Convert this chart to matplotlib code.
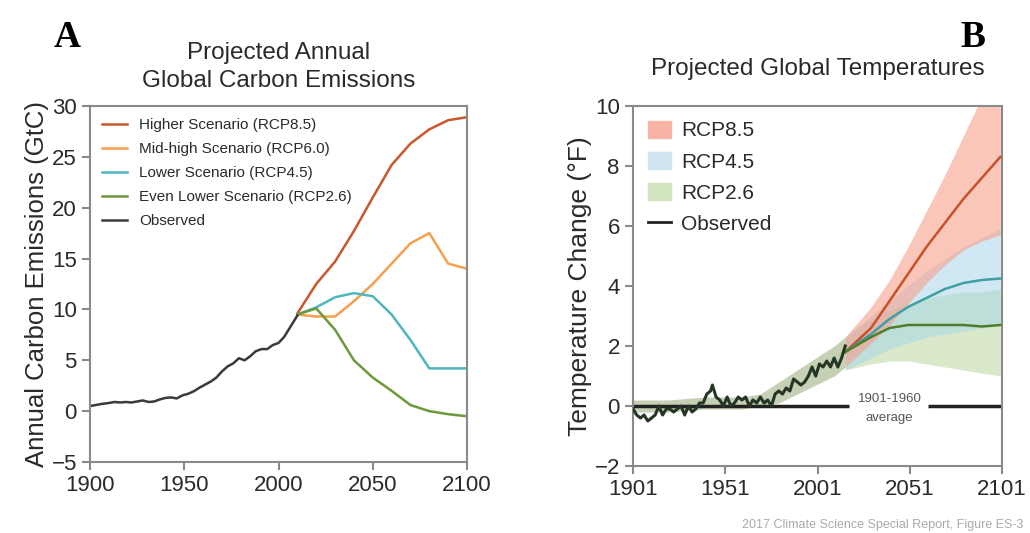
import numpy as np
import matplotlib.pyplot as plt
from matplotlib.lines import Line2D
from matplotlib.patches import Patch

plt.rcParams['font.family'] = ['Liberation Sans', 'DejaVu Sans']

# ---- Panel A: emissions (GtC) ----
obs_years = [1900, 1903, 1906, 1910, 1913, 1916, 1919, 1922, 1925, 1928, 1931, 1934,
             1937, 1940, 1943, 1946, 1949, 1952, 1955, 1958, 1961, 1964, 1967, 1970,
             1973, 1976, 1979, 1982, 1985, 1988, 1991, 1994, 1997, 2000, 2003, 2006, 2010]
obs_emis = [0.5, 0.6, 0.7, 0.8, 0.9, 0.85, 0.9, 0.85, 0.95, 1.05, 0.9, 0.95,
            1.15, 1.3, 1.35, 1.25, 1.55, 1.7, 1.95, 2.3, 2.6, 2.9, 3.3, 3.9,
            4.4, 4.7, 5.2, 5.0, 5.4, 5.9, 6.1, 6.1, 6.5, 6.7, 7.3, 8.2, 9.4]

scen_years = [2010, 2020, 2030, 2040, 2050, 2060, 2070, 2080, 2090, 2100]
rcp85_emis = [9.6, 12.5, 14.7, 17.7, 21.0, 24.2, 26.3, 27.7, 28.6, 28.9]
rcp45_emis = [9.5, 10.2, 11.2, 11.6, 11.3, 9.5, 7.0, 4.2, 4.2, 4.2]
rcp26_emis = [9.5, 10.1, 8.0, 5.0, 3.3, 2.0, 0.6, 0.0, -0.3, -0.5]
rcp60_years = [2010, 2020, 2030, 2040, 2050, 2060, 2070, 2080, 2085, 2090, 2100]
rcp60_emis = [9.5, 9.3, 9.3, 10.8, 12.5, 14.5, 16.5, 17.5, 16.0, 14.5, 14.0]

# ---- Panel B: temperature change (F) ----
tobs_years = [1901, 1903, 1905, 1907, 1909, 1911, 1913, 1915, 1917, 1919, 1921, 1923,
              1925, 1927, 1929, 1931, 1933, 1935, 1937, 1939, 1941, 1943, 1944, 1946,
              1948, 1950, 1952, 1954, 1956, 1958, 1960, 1962, 1964, 1966, 1968, 1970,
              1972, 1974, 1976, 1978, 1980, 1982, 1984, 1986, 1988, 1990, 1992, 1994,
              1996, 1998, 2000, 2002, 2004, 2006, 2008, 2010, 2012, 2014, 2016]
tobs = [-0.1, -0.3, -0.4, -0.3, -0.5, -0.4, -0.3, 0.0, -0.3, -0.1, -0.1, -0.2,
        -0.1, 0.0, -0.3, 0.0, -0.2, -0.1, 0.1, 0.1, 0.4, 0.5, 0.7, 0.3,
        0.2, 0.0, 0.3, 0.0, 0.1, 0.3, 0.2, 0.3, 0.0, 0.2, 0.1, 0.3,
        0.1, 0.2, 0.0, 0.4, 0.5, 0.4, 0.6, 0.5, 0.9, 0.8, 0.7, 0.8,
        1.0, 1.3, 1.0, 1.4, 1.3, 1.5, 1.3, 1.6, 1.3, 1.6, 2.0]

hist_years = [1901, 1920, 1940, 1950, 1960, 1970, 1980, 1990, 2000, 2010, 2016]
hist_hi = [0.2, 0.2, 0.3, 0.3, 0.3, 0.4, 0.8, 1.2, 1.6, 2.0, 2.3]
hist_lo = [-0.2, -0.2, -0.1, -0.1, -0.1, 0.0, 0.1, 0.4, 0.7, 1.0, 1.3]

proj_years = [2016, 2030, 2040, 2050, 2060, 2070, 2080, 2090, 2100]
rcp85_t = [1.8, 2.6, 3.5, 4.4, 5.3, 6.1, 6.9, 7.6, 8.3]
rcp45_t = [1.8, 2.4, 2.9, 3.3, 3.6, 3.9, 4.1, 4.2, 4.25]
rcp26_t = [1.8, 2.3, 2.6, 2.7, 2.7, 2.7, 2.7, 2.65, 2.7]
rcp85_hi = [2.3, 3.3, 4.2, 5.3, 6.5, 7.7, 9.0, 10.3, 11.5]
rcp85_lo = [1.3, 2.1, 2.7, 3.4, 4.1, 4.7, 5.2, 5.5, 5.7]
rcp45_hi = [2.3, 3.0, 3.5, 4.0, 4.5, 4.9, 5.3, 5.6, 5.9]
rcp45_lo = [1.2, 1.6, 1.9, 2.1, 2.3, 2.4, 2.5, 2.6, 2.7]
rcp26_hi = [2.3, 2.9, 3.2, 3.4, 3.6, 3.7, 3.8, 3.8, 3.9]
rcp26_lo = [1.2, 1.4, 1.5, 1.5, 1.4, 1.3, 1.2, 1.1, 1.0]

spine_col = '#8a8a8a'
txt_col = '#2a2a2a'

fig = plt.figure(figsize=(10.3, 5.33), dpi=100)
axA = fig.add_axes([0.0874, 0.1332, 0.366, 0.668])
axB = fig.add_axes([0.6146, 0.1257, 0.3583, 0.6754])

for ax in (axA, axB):
    for s in ax.spines.values():
        s.set_color(spine_col)
        s.set_linewidth(1.5)
    ax.tick_params(colors=spine_col, labelcolor=txt_col, labelsize=16, width=1.5, length=6)

# Panel A
axA.plot(scen_years, rcp85_emis, color='#c8582a', lw=1.8, label='Higher Scenario (RCP8.5)')
axA.plot(rcp60_years, rcp60_emis, color='#f6a04c', lw=1.8, label='Mid-high Scenario (RCP6.0)')
axA.plot(scen_years, rcp45_emis, color='#4fb5bf', lw=1.8, label='Lower Scenario (RCP4.5)')
axA.plot(scen_years, rcp26_emis, color='#6e983c', lw=1.8, label='Even Lower Scenario (RCP2.6)')
axA.plot(obs_years, obs_emis, color='#3a3a3a', lw=1.8, label='Observed')
axA.set_xlim(1900, 2100)
axA.set_ylim(-5, 30)
axA.set_xticks([1900, 1950, 2000, 2050, 2100])
axA.set_yticks([-5, 0, 5, 10, 15, 20, 25, 30])
axA.set_yticklabels(['\u22125', '0', '5', '10', '15', '20', '25', '30'])
axA.set_ylabel('Annual Carbon Emissions (GtC)', fontsize=18.5, color=txt_col, labelpad=2)
axA.legend(loc='upper left', frameon=False, fontsize=11, handlelength=1.6,
           labelcolor=txt_col, borderaxespad=0.4, labelspacing=0.65)
axA.set_title('Projected Annual\nGlobal Carbon Emissions', fontsize=17.5, color=txt_col,
              pad=14, linespacing=1.3)

# Panel B
axB.fill_between(hist_years, hist_lo, hist_hi, color='#c5d0b5', lw=0, zorder=1)
axB.fill_between(proj_years, rcp26_lo, rcp26_hi, color='#b8d69c', alpha=0.55, lw=0, zorder=1)
axB.fill_between(proj_years, rcp45_lo, rcp45_hi, color='#a9d6ea', alpha=0.55, lw=0, zorder=1)
axB.fill_between(proj_years, rcp85_lo, rcp85_hi, color='#f7a08c', alpha=0.6, lw=0, zorder=1)
axB.hlines(0, 1901, 2018, color='#222222', lw=2.5, zorder=2)
axB.hlines(0, 2061, 2101, color='#222222', lw=2.5, zorder=2)
axB.text(2040, 0.25, '1901-1960', ha='center', va='center', fontsize=9.5, color='#555555')
axB.text(2040, -0.4, 'average', ha='center', va='center', fontsize=9.5, color='#555555')
axB.plot(proj_years, rcp85_t, color='#c8502a', lw=1.8, zorder=3)
axB.plot(proj_years, rcp45_t, color='#3f9fa3', lw=1.8, zorder=3)
axB.plot(proj_years, rcp26_t, color='#4f7d2c', lw=1.8, zorder=3)
axB.plot(tobs_years, tobs, color='#263626', lw=2.2, zorder=4)
axB.set_xlim(1901, 2101)
axB.set_ylim(-2, 10)
axB.set_xticks([1901, 1951, 2001, 2051, 2101])
axB.set_yticks([-2, 0, 2, 4, 6, 8, 10])
axB.set_yticklabels(['\u22122', '0', '2', '4', '6', '8', '10'])
axB.set_ylabel('Temperature Change (\u00b0F)', fontsize=19, color=txt_col, labelpad=2)
handles = [Patch(color='#f9b3a4'), Patch(color='#cfe5ef'), Patch(color='#d3e4c0'),
           Line2D([], [], color='#222222', lw=2)]
axB.legend(handles, ['RCP8.5', 'RCP4.5', 'RCP2.6', 'Observed'], loc='upper left',
           frameon=False, fontsize=15, handlelength=1.1, handleheight=0.9,
           handletextpad=0.5, labelcolor=txt_col, borderaxespad=0.3, labelspacing=0.55)
axB.set_title('Projected Global Temperatures', fontsize=17.5, color=txt_col, pad=22)

fig.text(0.052, 0.93, 'A', fontsize=27, fontweight='bold', family='Liberation Serif',
         ha='left', va='center')
fig.text(0.932, 0.93, 'B', fontsize=27, fontweight='bold', family='Liberation Serif',
         ha='left', va='center')
fig.text(0.993, 0.004, '2017 Climate Science Special Report, Figure ES-3', fontsize=9,
         color='#aaaaaa', ha='right', va='bottom')

fig.savefig('out.png', dpi=100)
